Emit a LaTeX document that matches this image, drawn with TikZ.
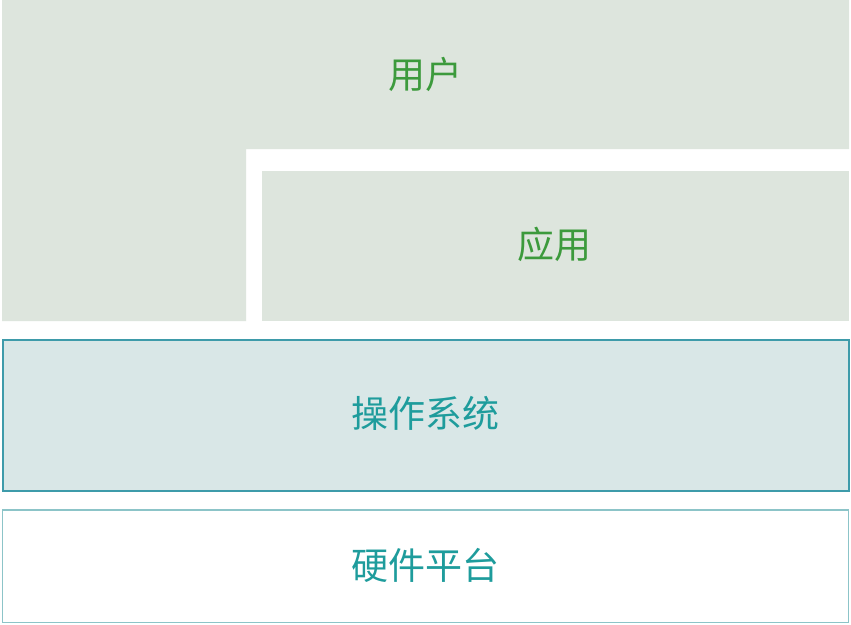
\documentclass[tikz,border=0pt]{standalone}
\usepackage{fontspec}
\newfontfamily\cjk{Noto Sans CJK SC}
\definecolor{userfill}{HTML}{DDE5DD}
\definecolor{osfill}{HTML}{D9E7E7}
\definecolor{osborder}{HTML}{3E9BAA}
\definecolor{hwborder}{HTML}{8CC4C8}
\definecolor{greentext}{HTML}{3C9A3C}
\definecolor{tealtext}{HTML}{1E9C9C}
\tikzset{
  lbl/.style={font=\cjk\fontsize{37}{42}\selectfont},
}
\begin{document}
\begin{tikzpicture}[x=1pt,y=-1pt]
\useasboundingbox (0,0) rectangle (851,624);
\fill[white] (0,0) rectangle (851,624);
% user L-shape
\fill[userfill] (2,0) -- (849,0) -- (849,149) -- (246,149) -- (246,321) -- (2,321) -- cycle;
% application
\fill[userfill] (262,171) rectangle (849,321);
% OS
\draw[osborder, fill=osfill, line width=2pt] (2.5,340) rectangle (848.5,490.5);
% hardware
\draw[hwborder, fill=white, line width=1.8pt] (2.5,510) rectangle (848.5,622.5);
\node[lbl, text=greentext] (user) at (425,74) {用户};
\node[lbl, text=greentext] (app) at (554,244) {应用};
\node[lbl, text=tealtext] (os) at (425,413) {操作系统};
\node[lbl, text=tealtext] (hw) at (425,565) {硬件平台};
\end{tikzpicture}
\end{document}
